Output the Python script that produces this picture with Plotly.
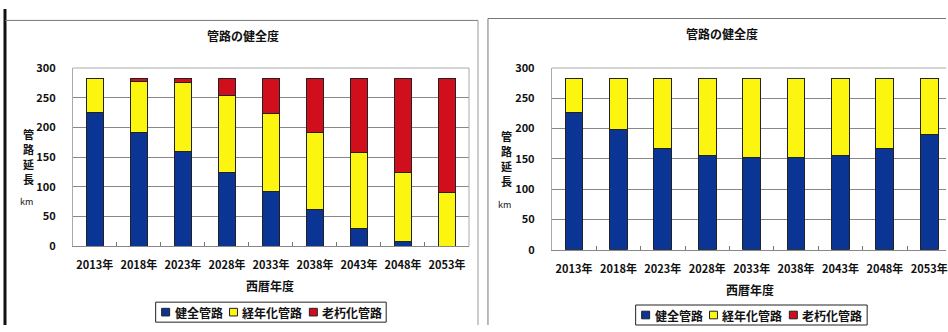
import plotly.graph_objects as go

W, H = 948, 332

years = ["2013年", "2018年", "2023年", "2028年", "2033年", "2038年", "2043年", "2048年", "2053年"]
series_names = ["健全管路", "経年化管路", "老朽化管路"]

left_sound = [225, 192, 159, 124, 92, 61, 29, 8, 0]
left_aged = [57, 86, 116, 129, 131, 130, 128, 116, 91]
left_old = [1, 5, 8, 30, 60, 92, 126, 159, 192]

right_sound = [227, 198, 167, 155, 152, 152, 155, 167, 191]
right_aged = [56, 85, 116, 128, 131, 131, 128, 116, 92]
right_old = [0, 0, 0, 0, 0, 0, 0, 0, 0]

title_text = "管路の健全度"
xtitle_text = "西暦年度"
ylabel_chars = ["管", "路", "延", "長"]
yunit_text = "km"

colors = ["#0a3595", "#fbf510", "#d10f1c"]
FONT = "Noto Sans CJK JP"
TXT = "#111111"


def px(x):
    return x / W


def py(y):
    return 1 - y / H


fig = go.Figure()

for vals, name, col in zip([left_sound, left_aged, left_old], series_names, colors):
    fig.add_trace(go.Bar(x=years, y=vals, name=name, showlegend=False,
                         marker=dict(color=col, line=dict(color="#222", width=1)),
                         xaxis="x", yaxis="y"))
for vals, name, col in zip([right_sound, right_aged, right_old], series_names, colors):
    fig.add_trace(go.Bar(x=years, y=vals, name=name, showlegend=False,
                         marker=dict(color=col, line=dict(color="#222", width=1)),
                         xaxis="x2", yaxis="y2"))

tick_font = dict(family=FONT, size=11, color=TXT, weight="bold")
axis_common_x = dict(type="category", showgrid=False, tickson="boundaries", ticks="inside", ticklen=4,
                     tickcolor="#777", showline=True, linecolor="#888", linewidth=1, tickangle=0,
                     tickfont=tick_font, fixedrange=True, ticklabelstandoff=9)
axis_common_y = dict(range=[0, 300], dtick=50, showgrid=True, gridcolor="#888", gridwidth=1,
                     showline=True, linecolor="#aaa", linewidth=1, ticks="", zeroline=False,
                     tickfont=tick_font, ticklabelstandoff=14)

fig.update_layout(
    width=W, height=H,
    margin=dict(l=0, r=0, t=0, b=0),
    paper_bgcolor="white", plot_bgcolor="white",
    barmode="stack", bargap=0.6,
    font=dict(family=FONT, color=TXT),
    showlegend=False,
    xaxis=dict(domain=[px(73), px(470)], anchor="y", range=[-0.5, 8.5], **axis_common_x),
    yaxis=dict(domain=[py(249), py(62)], anchor="x", **axis_common_y),
    xaxis2=dict(domain=[px(553), 1], anchor="y2", range=[-0.5, -0.5 + 395 / 44.5], **axis_common_x),
    yaxis2=dict(domain=[py(253), py(62)], anchor="x2", **axis_common_y),
)

annotations = []
shapes = []


def add_text(text, x, y, size, anchor="center", bold=True):
    annotations.append(dict(text=text, x=px(x), y=py(y), xref="paper", yref="paper",
                            showarrow=False, xanchor=anchor, yanchor="middle",
                            font=dict(family=FONT, size=size, color=TXT,
                                      weight="bold" if bold else "normal")))


panels = [
    dict(title=(244, 28), xtitle=(271, 291), ylab_x=29, ylab_y0=131, km=(27, 202),
         legend_box=(156, 308, 387, 329)),
    dict(title=(724, 26), xtitle=(752, 295), ylab_x=508, ylab_y0=133, km=(506, 205),
         legend_box=(637, 311, 869, 332)),
]

for p in panels:
    add_text(title_text, p["title"][0], p["title"][1], 12)
    add_text(xtitle_text, p["xtitle"][0], p["xtitle"][1], 12)
    for i, ch in enumerate(ylabel_chars):
        add_text(ch, p["ylab_x"], p["ylab_y0"] + i * 16, 11)
    add_text(yunit_text, p["km"][0], p["km"][1], 9, bold=False)
    # legend box built from the series names and colours
    x0, y0, x1, y1 = p["legend_box"]
    shapes.append(dict(type="rect", xref="paper", yref="paper", x0=px(x0), x1=px(x1), y0=py(y1), y1=py(y0),
                       line=dict(color="#222", width=1), fillcolor="white", layer="above"))
    cy = (y0 + y1) / 2
    cx = x0 + 6
    for name, col in zip(series_names, colors):
        shapes.append(dict(type="rect", xref="paper", yref="paper", x0=px(cx), x1=px(cx + 8),
                           y0=py(cy + 4), y1=py(cy - 4), line=dict(color="#222", width=1),
                           fillcolor=col, layer="above"))
        add_text(name, cx + 11, cy, 12, anchor="left")
        cx += 11 + 12 * len(name) + 9

fig.update_layout(annotations=annotations)

shapes += [
    dict(type="line", xref="paper", yref="paper", x0=px(5), x1=px(5), y0=0, y1=1,
         line=dict(color="#111", width=3)),
    dict(type="line", xref="paper", yref="paper", x0=px(5), x1=px(479), y0=py(12), y1=py(12),
         line=dict(color="#777", width=1)),
    dict(type="line", xref="paper", yref="paper", x0=px(479), x1=px(479), y0=py(12), y1=0,
         line=dict(color="#999", width=1)),
    dict(type="line", xref="paper", yref="paper", x0=px(489), x1=1, y0=py(10), y1=py(10),
         line=dict(color="#777", width=1)),
    dict(type="line", xref="paper", yref="paper", x0=px(489), x1=px(489), y0=py(10), y1=0,
         line=dict(color="#777", width=1)),
    dict(type="line", xref="paper", yref="paper", x0=px(73), x1=px(470), y0=py(62), y1=py(62),
         line=dict(color="#aaa", width=1)),
    dict(type="line", xref="paper", yref="paper", x0=px(470), x1=px(470), y0=py(62), y1=py(249),
         line=dict(color="#aaa", width=1)),
    dict(type="line", xref="paper", yref="paper", x0=px(553), x1=1, y0=py(62), y1=py(62),
         line=dict(color="#aaa", width=1)),
]
fig.update_layout(shapes=shapes)

fig.write_html("out.html")
